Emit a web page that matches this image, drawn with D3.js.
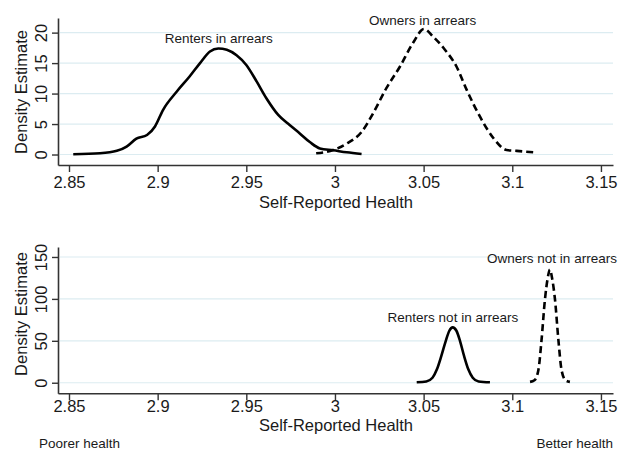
<!DOCTYPE html>
<html><head><meta charset="utf-8">
<script src="https://cdn.jsdelivr.net/npm/d3@7"></script>
<style>body{margin:0;background:#fff}svg{display:block}text{font-family:"Liberation Sans",Arial,sans-serif;fill:#1a1a1a}</style>
</head><body><svg id="c" width="619" height="453"></svg>
<script>
const xTicks = [2.85, 2.9, 2.95, 3, 3.05, 3.1, 3.15];
const yTicksTop = [0, 5, 10, 15, 20];
const yTicksBottom = [0, 50, 100, 150];
const xTitle = "Self-Reported Health";
const yTitle = "Density Estimate";

const rentersInArrears = [[2.8524,0.05],[2.8675,0.2],[2.877,0.6],[2.8825,1.3],[2.888,2.6],[2.894,3.2],[2.8985,4.6],[2.903,7.3],[2.9107,10.3],[2.918,12.8],[2.9239,15],[2.9295,16.9],[2.9342,17.4],[2.939,17.2],[2.9445,16.3],[2.950,14.7],[2.9558,12],[2.9614,9.2],[2.968,6.5],[2.9746,4.8],[2.980,3.5],[2.986,2.0],[2.9915,1.0],[2.999,0.7],[3.0066,0.36],[3.015,0.08]];
const ownersInArrears = [[2.9894,0.2],[2.999,0.74],[3.0066,1.8],[3.015,3.7],[3.0216,6.8],[3.029,10.9],[3.0366,14.4],[3.044,18.3],[3.0502,20.6],[3.0555,19.3],[3.062,17.2],[3.0686,14.4],[3.0743,10.6],[3.0818,6.2],[3.0893,2.7],[3.0968,0.74],[3.1025,0.6],[3.1119,0.36]];
const rentersNotInArrears = [[3.0461,0.5],[3.0515,1.5],[3.0550,6],[3.0575,16],[3.0600,32],[3.0625,50],[3.0645,62],[3.0664,66],[3.0685,62],[3.0705,50],[3.0728,32],[3.0752,16],[3.0777,6],[3.0810,1.5],[3.0874,0.5]];
const ownersNotInArrears = [[3.1100,1],[3.1125,3],[3.1147,15],[3.1165,51],[3.1184,99],[3.1200,125],[3.1212,135],[3.1225,124],[3.1241,99],[3.1260,51],[3.1278,15],[3.1300,3],[3.1325,1]];

const panels = [
  {yDomain:[-1.72,22.4], yRange:[165,18], ticks:yTicksTop, tickBase:23, titleBase:42.5, yTitleY:92,
   series:[{d:rentersInArrears,dash:null},{d:ownersInArrears,dash:"7,4"}],
   labels:[{t:"Renters in arrears",x:2.9345,y:43},{t:"Owners in arrears",x:3.0495,y:24.5}]},
  {yDomain:[-12.6,161.9], yRange:[393.3,247], ticks:yTicksBottom, tickBase:19, titleBase:38, yTitleY:314,
   series:[{d:rentersNotInArrears,dash:null},{d:ownersNotInArrears,dash:"7,4"}],
   labels:[{t:"Renters not in arrears",x:3.0665,y:322},{t:"Owners not in arrears",x:3.1224,y:263}]}
];

const svg = d3.select("#c");
const x = d3.scaleLinear().domain([2.8438, 3.1568]).range([58, 613]);

panels.forEach((p,i) => {
  const y = d3.scaleLinear().domain(p.yDomain).range(p.yRange);
  const g = svg.append("g");
  g.selectAll(".grid").data(p.ticks).join("line")
    .attr("x1", 60).attr("x2", 613)
    .attr("y1", d=>y(d)).attr("y2", d=>y(d))
    .attr("stroke", "#dcecf1").attr("stroke-width", 1.2);
  const xa = g.append("g").attr("transform", `translate(0,${p.yRange[0]})`)
    .call(d3.axisBottom(x).tickValues(xTicks).tickFormat(d3.format("")).tickSize(7).tickSizeOuter(0));
  xa.select(".domain").attr("stroke","#333").attr("stroke-width",1.6);
  xa.selectAll(".tick line").attr("stroke","#333").attr("stroke-width",1.4);
  xa.selectAll(".tick text").style("font-size","16.5px").attr("fill","#1a1a1a")
    .attr("y", p.tickBase).attr("dy", null);
  const ya = g.append("g").attr("transform", `translate(58,0)`)
    .call(d3.axisLeft(y).tickValues(p.ticks).tickSize(6).tickSizeOuter(0).tickFormat(d3.format("")));
  ya.select(".domain").attr("stroke","#333").attr("stroke-width",1.6);
  ya.selectAll(".tick line").attr("stroke","#333").attr("stroke-width",1.4);
  ya.selectAll(".tick text").style("font-size","16.5px").attr("fill","#1a1a1a")
    .attr("x",null).attr("dy",null).attr("text-anchor","middle")
    .attr("transform","translate(-11.5,0) rotate(-90)");
  g.append("text").attr("x", 336).attr("y", p.yRange[0] + p.titleBase)
    .attr("text-anchor","middle").style("font-size","16.5px").text(xTitle);
  g.append("text").attr("transform", `translate(27,${p.yTitleY}) rotate(-90)`)
    .attr("text-anchor","middle").style("font-size","16.5px").text(yTitle);
  const line = d3.line().x(d=>x(d[0])).y(d=>y(d[1])).curve(d3.curveMonotoneX);
  p.series.forEach(s => {
    g.append("path").datum(s.d).attr("d", line)
      .attr("fill","none").attr("stroke","#000").attr("stroke-width",2.6)
      .attr("stroke-linejoin","round")
      .attr("stroke-dasharray", s.dash);
  });
  p.labels.forEach(l => {
    g.append("text").attr("x", x(l.x)).attr("y", l.y).attr("text-anchor","middle")
      .style("font-size","13.5px").text(l.t);
  });
});

svg.append("text").attr("x", 39).attr("y", 447.5).style("font-size","13.5px").text("Poorer health");
svg.append("text").attr("x", 613).attr("y", 447.5).attr("text-anchor","end").style("font-size","13.5px").text("Better health");
</script></body></html>
